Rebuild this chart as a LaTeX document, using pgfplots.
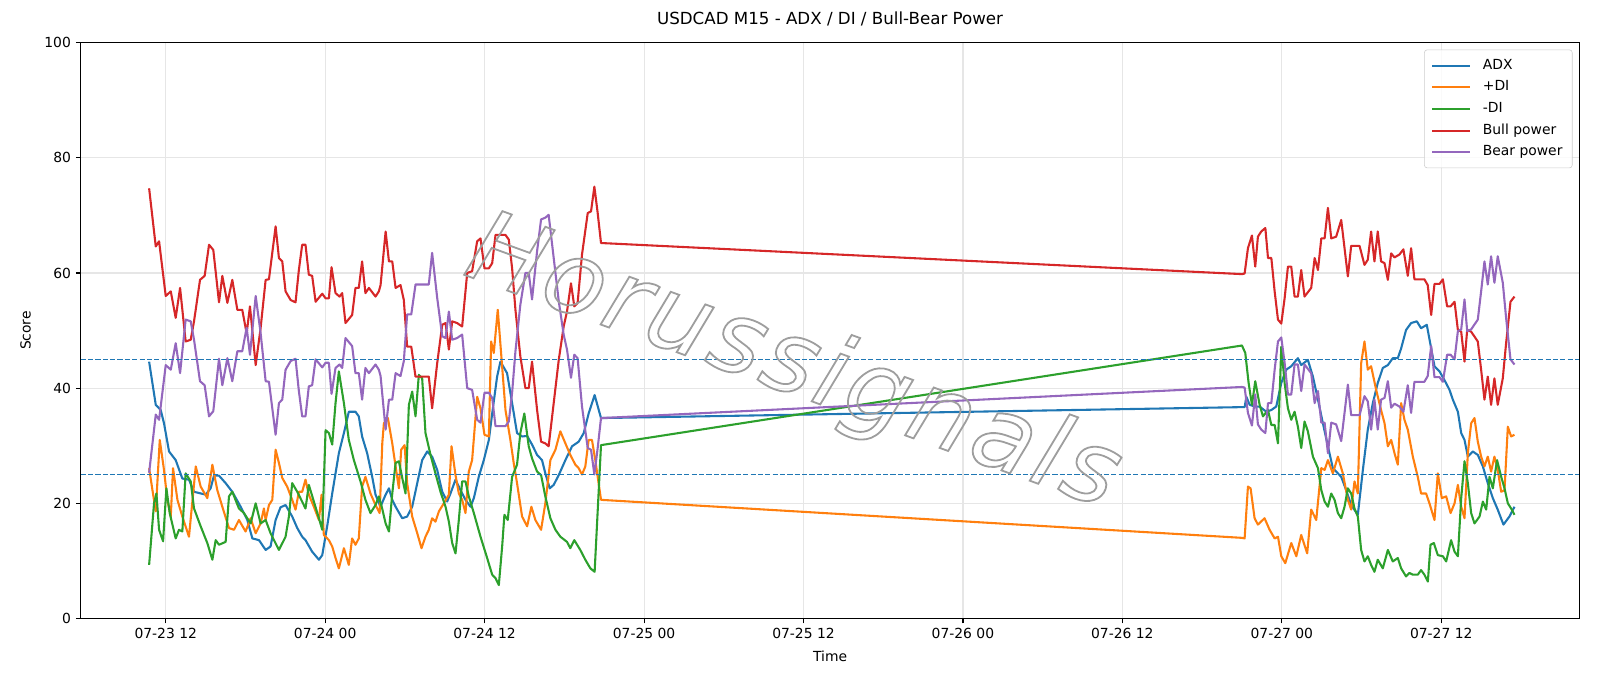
\documentclass[border=0pt]{standalone}
\usepackage{fontspec}
\setmainfont{DejaVu Sans}
\newfontfamily\wmfont[LetterSpace=4]{DejaVu Sans}
\usepackage{pgfplots}
\pgfplotsset{compat=1.18}
\definecolor{tabblue}{HTML}{1F77B4}
\definecolor{taborange}{HTML}{FF7F0E}
\definecolor{tabgreen}{HTML}{2CA02C}
\definecolor{tabred}{HTML}{D62728}
\definecolor{tabpurple}{HTML}{9467BD}
\definecolor{gridgray}{RGB}{230,230,230}
\begin{document}
\begin{tikzpicture}
\path[use as bounding box] (-58.1pt,-48.6pt) rectangle (1093.9pt,445.3pt);
\begin{axis}[
  at={(0pt,0pt)}, anchor=south west,
  scale only axis, width=1079.1pt, height=414.6pt,
  xmin=5.6, xmax=118.4, ymin=0, ymax=100,
  xtick={12,24,36,48,60,72,84,96,108},
  xticklabels={07-23 12,07-24 00,07-24 12,07-25 00,07-25 12,07-26 00,07-26 12,07-27 00,07-27 12},
  ytick={0,20,40,60,80,100},
  /pgf/number format/assume math mode=true,
  grid=major, major grid style={color=gridgray, line width=0.8pt},
  axis line style={line width=0.8pt},
  tick style={black, line width=0.8pt}, tick align=outside, major tick length=3.5pt, tick pos=left,
  ticklabel style={font=\fontsize{10}{12}\selectfont},
  title={USDCAD M15 - ADX / DI / Bull-Bear Power},
  title style={font=\fontsize{12}{14}\selectfont, at={(axis description cs:0.5,1)}, anchor=base, yshift=7pt},
  xlabel={Time}, ylabel={Score},
  label style={font=\fontsize{10}{12}\selectfont},
  xlabel style={at={(axis description cs:0.5,-0.0652)}, anchor=center},
  ylabel style={at={(axis description cs:-0.0368,0.5)}, anchor=center, rotate=0},
  legend style={at={(axis description cs:1,1)}, anchor=north east, xshift=-5pt, yshift=-5pt,
    draw=black!20, rounded corners=2pt, fill=white, fill opacity=0.8, text opacity=1,
    font=\fontsize{10}{12}\selectfont, inner xsep=5pt, inner ysep=3.5pt, row sep=0pt, column sep=6.6pt,
    nodes={inner xsep=2pt, inner ysep=2.8pt, text height=7.5pt, text depth=2.5pt}},
  legend cell align=left,
  legend image code/.code={\draw[#1] (0pt,0pt) -- (27pt,0pt);},
  every axis plot/.append style={line width=1.5pt, line join=round},
]
\addplot[tabblue] table {
x y
10.75 44.6
11.25 37.1
11.62 36.2
11.87 33.9
12.25 29.0
12.75 27.5
13.25 24.3
13.75 24.1
14.13 22.0
15.01 21.5
15.38 22.6
15.63 24.8
16.01 24.8
16.51 23.5
17.01 22.0
17.64 19.4
18.14 17.1
18.52 13.9
19.02 13.6
19.52 11.9
19.89 12.5
20.27 17.1
20.64 19.3
21.02 19.7
21.52 17.7
21.90 15.7
22.27 14.2
22.52 13.6
23.02 11.6
23.53 10.2
23.78 11.0
24.15 16.0
24.53 21.7
25.03 28.7
25.41 32.2
25.78 35.9
26.28 35.9
26.53 35.1
26.78 31.6
27.16 28.7
27.54 24.6
27.79 21.5
28.16 19.4
28.55 21.5
28.80 22.6
29.05 20.6
29.30 19.4
29.80 17.4
30.17 17.7
30.55 19.4
30.93 23.5
31.30 27.5
31.68 29.0
32.05 28.1
32.43 25.8
32.81 22.0
33.18 20.3
33.43 21.7
33.81 24.1
34.18 22.3
34.56 20.6
34.94 19.4
35.19 20.9
35.56 24.6
35.94 27.5
36.32 31.0
36.57 35.6
36.94 42.0
37.19 44.6
37.69 42.6
38.07 37.4
38.44 32.2
38.82 31.6
39.20 31.7
39.57 30.2
39.95 28.4
40.32 27.5
40.57 25.2
40.90 22.6
41.20 23.2
41.58 24.9
42.08 27.5
42.58 29.9
43.08 30.7
43.46 32.2
43.83 35.6
44.28 38.8
44.76 34.8
93.00 36.7
93.20 36.7
93.33 38.5
93.58 37.1
93.95 36.8
94.33 36.8
94.83 35.9
95.21 36.2
95.58 36.8
95.96 40.9
96.33 43.2
96.71 43.8
97.21 45.2
97.46 44.0
97.96 44.9
98.34 42.0
98.72 38.0
99.09 33.9
99.47 29.9
99.84 26.1
100.47 24.6
100.84 22.3
101.22 19.7
101.72 18.0
102.10 25.8
102.47 32.8
102.85 37.4
103.22 40.9
103.60 43.5
103.98 44.0
104.35 45.2
104.73 45.2
104.98 46.9
105.35 50.1
105.73 51.3
106.16 51.6
106.48 50.4
106.91 51.0
107.24 46.9
107.49 43.8
107.87 42.9
108.24 41.4
108.62 39.7
108.87 38.0
109.25 35.9
109.50 32.2
109.75 31.0
110.00 28.1
110.37 29.0
110.75 28.4
111.13 26.4
111.50 23.5
111.88 20.9
112.25 18.9
112.68 16.3
113.13 17.7
113.51 19.4
};
\addlegendentry{ADX}
\addplot[taborange] table {
x y
10.75 26.1
11.00 22.3
11.25 18.6
11.55 31.0
11.87 25.8
12.12 20.6
12.38 17.7
12.55 26.1
12.88 20.6
13.25 17.7
13.75 14.2
14.26 26.4
14.63 22.9
15.13 20.9
15.51 26.7
15.88 22.3
16.26 19.4
16.76 15.7
17.14 15.4
17.51 17.1
18.01 15.1
18.39 17.4
18.77 14.8
19.14 16.5
19.39 19.1
19.52 17.1
19.77 19.7
20.02 20.6
20.27 29.3
20.52 27.0
20.77 24.4
21.14 22.9
21.52 20.6
21.77 18.9
22.02 22.0
22.27 22.0
22.52 24.1
22.77 21.5
23.15 19.4
23.53 17.1
23.73 21.5
23.90 14.5
24.28 13.6
24.53 12.5
24.78 10.5
25.03 8.7
25.41 12.2
25.78 9.3
26.03 13.9
26.28 12.8
26.53 13.9
26.78 22.9
27.03 24.6
27.41 21.7
27.79 19.7
28.10 18.3
28.30 30.5
28.42 33.9
28.72 34.8
29.05 30.4
29.30 26.4
29.55 22.6
29.72 29.3
29.98 30.1
30.17 23.5
30.55 17.7
30.93 14.8
31.25 12.2
31.55 14.2
31.80 15.4
32.05 17.4
32.30 16.8
32.56 18.6
32.93 20.0
33.31 21.5
33.51 29.9
33.81 24.9
34.06 21.7
34.31 20.6
34.56 18.3
34.81 25.5
35.06 27.5
35.44 38.5
35.69 36.5
35.99 31.9
36.32 31.6
36.49 48.1
36.69 46.1
36.99 53.6
37.24 46.1
37.57 36.2
37.94 31.0
38.19 27.0
38.44 23.5
38.82 17.7
39.20 16.0
39.52 19.4
39.82 17.1
40.25 15.4
40.57 20.0
40.95 27.5
41.33 29.3
41.70 32.5
42.08 30.4
42.45 28.4
42.83 26.7
43.08 26.1
43.33 25.0
43.58 26.4
43.83 31.0
44.08 31.0
44.33 27.5
44.76 20.6
93.00 14.0
93.20 13.9
93.45 22.9
93.65 22.6
93.95 17.4
94.20 16.3
94.70 17.4
95.08 15.4
95.46 13.9
95.71 14.2
95.96 10.8
96.26 9.6
96.71 13.1
97.09 10.8
97.46 14.5
97.91 11.3
98.21 18.9
98.59 17.1
98.97 26.1
99.22 25.8
99.47 27.5
99.84 25.2
100.22 28.1
100.59 25.2
100.97 20.6
101.22 18.9
101.47 23.8
101.72 21.7
101.97 44.3
102.22 48.1
102.47 43.2
102.72 43.8
103.10 39.7
103.47 36.2
103.73 33.9
103.98 29.9
104.23 31.0
104.48 28.7
104.73 26.7
104.98 37.4
105.23 34.5
105.48 32.8
105.86 28.1
106.23 24.6
106.48 21.7
106.86 21.7
107.11 20.0
107.49 17.1
107.74 25.2
108.04 20.9
108.37 21.2
108.70 18.3
109.00 20.0
109.25 23.2
109.50 19.4
109.75 17.4
110.00 28.7
110.25 33.9
110.50 34.8
110.75 30.7
111.00 28.1
111.25 26.4
111.50 28.1
111.75 25.5
112.00 28.1
112.25 25.8
112.51 22.0
112.76 22.3
113.01 33.3
113.26 31.6
113.51 31.9
};
\addlegendentry{+DI}
\addplot[tabgreen] table {
x y
10.75 9.3
11.12 20.0
11.30 21.7
11.50 15.4
11.80 13.4
12.05 22.6
12.30 18.3
12.75 13.9
13.00 15.4
13.25 15.1
13.50 25.2
13.88 23.8
14.13 19.1
14.63 16.0
15.13 13.1
15.51 10.2
15.76 13.6
16.01 12.8
16.51 13.3
16.76 21.2
17.01 22.0
17.51 19.1
17.89 18.3
18.39 16.5
18.77 20.0
19.14 16.5
19.52 17.1
19.89 14.8
20.52 11.9
21.02 14.2
21.27 17.7
21.52 23.5
21.90 22.0
22.52 19.1
22.77 23.2
23.15 20.3
23.53 17.4
23.78 15.4
24.03 32.7
24.28 32.2
24.53 30.2
24.78 37.4
25.03 42.9
25.41 37.4
25.78 31.0
26.16 27.5
26.66 23.8
27.03 20.6
27.41 18.3
27.79 19.7
28.04 21.2
28.29 19.1
28.55 16.5
28.80 15.1
29.05 21.7
29.30 27.0
29.55 27.3
29.80 24.4
30.05 21.7
30.30 37.1
30.55 39.4
30.80 35.1
31.05 42.3
31.30 41.7
31.55 32.2
31.93 28.4
32.30 25.2
32.68 22.0
33.06 19.4
33.31 16.8
33.56 13.1
33.81 11.3
34.06 17.1
34.31 23.8
34.56 23.8
34.81 21.2
35.19 18.3
35.69 14.2
36.19 10.5
36.57 7.6
36.82 7.0
37.07 5.8
37.32 12.5
37.49 18.0
37.74 17.1
38.07 24.6
38.44 26.7
38.69 32.2
38.99 35.6
39.32 29.9
39.57 27.8
39.95 25.5
40.25 24.9
40.57 21.2
40.95 17.4
41.33 15.4
41.70 14.2
42.20 13.3
42.45 12.2
42.75 13.6
43.20 11.9
43.58 10.2
43.96 8.7
44.28 8.1
44.76 30.1
93.00 47.4
93.25 46.1
93.50 40.9
93.75 37.1
94.00 41.2
94.33 37.1
94.58 35.1
94.96 36.2
95.21 33.6
95.46 33.6
95.71 30.4
95.96 47.2
96.21 40.9
96.46 36.5
96.71 34.5
96.96 35.9
97.21 33.3
97.46 29.6
97.71 34.2
97.96 32.5
98.34 28.1
98.72 26.1
98.97 22.3
99.22 20.3
99.47 19.4
99.72 21.7
99.97 20.6
100.22 18.3
100.47 17.4
100.72 19.4
100.97 22.6
101.22 21.7
101.47 19.1
101.72 17.7
101.97 11.9
102.22 9.9
102.47 10.8
102.72 9.3
102.97 8.1
103.22 10.2
103.60 8.7
103.98 11.9
104.35 9.9
104.73 10.5
104.98 8.7
105.35 7.3
105.60 7.9
105.86 7.6
106.23 7.6
106.48 8.4
106.73 7.6
106.99 6.4
107.19 12.8
107.44 13.1
107.74 11.0
108.12 10.8
108.37 9.9
108.74 13.6
109.00 11.6
109.25 10.8
109.50 20.9
109.75 27.3
110.00 23.5
110.25 18.3
110.50 16.5
110.88 17.7
111.13 20.3
111.38 18.9
111.63 24.6
111.88 22.6
112.20 27.5
112.51 24.6
112.76 22.6
113.01 20.0
113.31 18.9
113.51 18.0
};
\addlegendentry{-DI}
\addplot[tabred] table {
x y
10.75 74.7
11.25 64.6
11.50 65.5
12.00 56.0
12.38 56.8
12.75 52.2
13.08 57.4
13.50 48.1
13.88 48.4
14.13 51.6
14.58 58.8
14.93 59.5
15.26 64.9
15.58 64.0
16.01 54.9
16.26 59.5
16.64 54.8
17.01 58.8
17.39 53.6
17.76 53.6
18.09 49.5
18.34 54.2
18.77 44.0
19.14 50.4
19.52 58.8
19.77 58.9
20.27 68.1
20.52 62.6
20.77 62.0
21.02 56.8
21.40 55.3
21.77 54.9
22.02 60.5
22.27 64.9
22.52 64.9
22.77 59.7
23.02 59.5
23.28 55.0
23.78 56.4
24.03 55.6
24.28 55.6
24.48 61.0
24.78 56.5
25.08 55.9
25.28 56.5
25.53 51.3
26.03 52.7
26.28 57.4
26.53 57.4
26.78 62.0
27.03 56.5
27.29 57.4
27.79 55.9
28.04 56.8
28.17 57.9
28.55 67.2
28.80 62.0
29.05 62.0
29.30 57.4
29.67 57.9
29.92 55.3
30.17 47.2
30.48 47.2
30.80 42.0
31.30 42.0
31.80 42.0
32.05 36.5
32.43 44.3
32.81 51.0
33.06 51.3
33.31 46.7
33.56 51.6
33.93 51.3
34.31 50.7
34.69 60.0
35.06 60.3
35.44 65.5
35.69 66.0
35.99 60.8
36.32 60.8
36.57 61.7
36.82 66.6
37.57 66.6
37.82 65.8
38.07 60.8
38.32 53.6
38.69 45.5
39.07 40.0
39.32 40.0
39.57 44.6
39.95 36.2
40.25 30.7
40.57 30.4
40.82 29.9
41.20 37.4
41.58 44.9
41.95 50.7
42.20 53.3
42.50 58.2
42.75 54.2
43.00 54.8
43.33 63.2
43.76 70.4
44.01 70.7
44.26 75.0
44.51 70.4
44.76 65.2
93.00 59.8
93.20 59.9
93.45 64.3
93.75 66.5
94.00 61.1
94.20 66.3
94.45 67.2
94.76 67.8
94.96 62.6
95.21 62.6
95.46 56.8
95.71 51.9
95.96 51.2
96.21 55.6
96.46 61.1
96.71 61.1
96.96 55.9
97.21 55.9
97.46 60.5
97.71 55.9
98.21 57.4
98.47 62.6
98.72 60.5
98.97 66.0
99.22 66.0
99.47 71.3
99.72 66.0
100.09 66.3
100.47 69.2
100.97 59.4
101.22 64.7
101.85 64.7
102.22 61.4
102.47 62.3
102.72 67.2
102.97 62.0
103.22 67.2
103.47 62.0
103.73 61.7
103.98 58.8
104.23 63.4
104.48 62.7
104.85 63.2
105.15 64.1
105.48 59.5
105.73 64.3
105.98 58.9
106.73 58.9
106.98 57.9
107.24 52.7
107.49 58.1
107.87 58.1
108.12 58.9
108.44 54.2
108.70 54.2
109.00 55.0
109.25 50.1
109.50 49.8
109.75 44.6
109.95 50.1
110.25 49.8
110.75 48.1
111.00 43.2
111.25 38.0
111.50 42.0
111.75 37.1
112.00 41.7
112.25 37.1
112.63 41.7
112.88 47.8
113.21 55.0
113.51 55.9
};
\addlegendentry{Bull power}
\addplot[tabpurple] table {
x y
10.75 25.3
11.25 35.4
11.50 34.5
12.00 44.0
12.38 43.2
12.75 47.8
13.08 42.6
13.50 51.9
13.88 51.6
14.13 48.4
14.58 41.2
14.93 40.5
15.26 35.1
15.58 36.0
16.01 45.1
16.26 40.5
16.64 45.2
17.01 41.2
17.39 46.4
17.76 46.4
18.09 50.5
18.34 45.8
18.77 56.0
19.14 49.6
19.52 41.2
19.77 41.1
20.27 31.9
20.52 37.4
20.77 38.0
21.02 43.2
21.40 44.7
21.77 45.1
22.02 39.5
22.27 35.1
22.52 35.1
22.77 40.3
23.02 40.5
23.28 45.0
23.78 43.6
24.03 44.4
24.28 44.4
24.48 39.0
24.78 43.5
25.08 44.1
25.28 43.5
25.53 48.7
26.03 47.3
26.28 42.6
26.53 42.6
26.78 38.0
27.03 43.5
27.29 42.6
27.79 44.1
28.04 43.2
28.17 42.1
28.55 32.8
28.80 38.0
29.05 38.0
29.30 42.6
29.67 42.1
29.92 44.7
30.17 52.8
30.48 52.8
30.80 58.0
31.30 58.0
31.80 58.0
32.05 63.5
32.43 55.7
32.81 49.0
33.06 48.7
33.31 53.3
33.56 48.4
33.93 48.7
34.31 49.3
34.69 40.0
35.06 39.7
35.44 34.5
35.69 34.0
35.99 39.2
36.32 39.2
36.57 38.3
36.82 33.4
37.57 33.4
37.82 34.2
38.07 39.2
38.32 46.4
38.69 54.5
39.07 60.0
39.32 60.0
39.57 55.4
39.95 63.8
40.25 69.3
40.57 69.6
40.82 70.1
41.20 62.6
41.58 55.1
41.95 49.3
42.20 46.7
42.50 41.8
42.75 45.8
43.00 45.2
43.33 36.8
43.76 29.6
44.01 29.3
44.26 25.0
44.51 29.6
44.76 34.8
93.00 40.2
93.20 40.1
93.45 35.7
93.75 33.5
94.00 38.9
94.20 33.7
94.45 32.8
94.76 32.2
94.96 37.4
95.21 37.4
95.46 43.2
95.71 48.1
95.96 48.8
96.21 44.4
96.46 38.9
96.71 38.9
96.96 44.1
97.21 44.1
97.46 39.5
97.71 44.1
98.21 42.6
98.47 37.4
98.72 39.5
98.97 34.0
99.22 34.0
99.47 28.7
99.72 34.0
100.09 33.7
100.47 30.8
100.97 40.6
101.22 35.3
101.85 35.3
102.22 38.6
102.47 37.7
102.72 32.8
102.97 38.0
103.22 32.8
103.47 38.0
103.73 38.3
103.98 41.2
104.23 36.6
104.48 37.3
104.85 36.8
105.15 35.9
105.48 40.5
105.73 35.7
105.98 41.1
106.73 41.1
106.98 42.1
107.24 47.3
107.49 41.9
107.87 41.9
108.12 41.1
108.44 45.8
108.70 45.8
109.00 45.0
109.25 49.9
109.50 50.2
109.75 55.4
109.95 49.9
110.25 50.2
110.75 51.9
111.00 56.8
111.25 62.0
111.50 58.0
111.75 62.9
112.00 58.3
112.25 62.9
112.63 58.3
112.88 52.2
113.21 45.0
113.51 44.1
};
\addlegendentry{Bear power}
\addplot[tabblue, line width=1pt, dash pattern=on 3.7pt off 1.6pt, forget plot] coordinates {(5.6,45) (118.4,45)};
\addplot[tabblue, line width=1pt, dash pattern=on 3.7pt off 1.6pt, forget plot] coordinates {(5.6,25) (118.4,25)};
\node[rotate=-20, text=black!38, inner sep=0pt] at (axis cs:59.2,44.0)
  {\wmfont\itshape\fontsize{72}{72}\selectfont\special{pdf:literal direct 1 Tr 1.3 w}Horussignals\special{pdf:literal direct 0 Tr}};
\end{axis}
\end{tikzpicture}
\end{document}
